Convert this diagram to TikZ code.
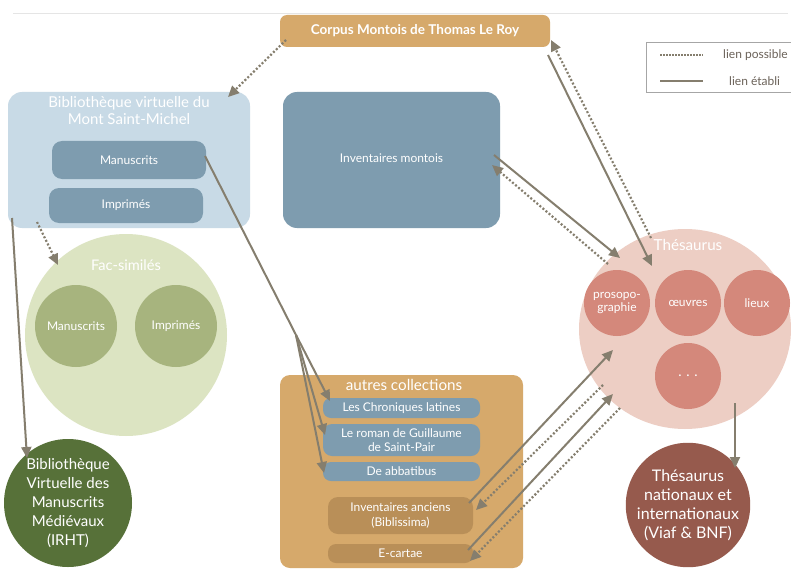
\documentclass[tikz,border=0pt]{standalone}
\usepackage{fontspec}
\setmainfont{Lato}
\usetikzlibrary{arrows.meta,shapes.geometric}
\definecolor{tan}{HTML}{D6A96B}
\definecolor{tandark}{HTML}{B98F58}
\definecolor{ltblue}{HTML}{C8DAE6}
\definecolor{mdblue}{HTML}{7E9CAF}
\definecolor{ltgreen}{HTML}{DCE4C2}
\definecolor{mdgreen}{HTML}{A7B47E}
\definecolor{dkgreen}{HTML}{577139}
\definecolor{ltpink}{HTML}{EDCEC4}
\definecolor{mdpink}{HTML}{D4887B}
\definecolor{dkpink}{HTML}{965A4D}
\definecolor{arr}{HTML}{857E6E}
\definecolor{legtxt}{HTML}{6B6259}
\tikzset{
  box/.style={rounded corners=12pt, draw=none, text=white, align=center, inner sep=0pt},
  circ/.style={circle, draw=none, text=white, align=center, inner sep=0pt},
  lbl/.style={text=white, align=center, inner sep=0pt},
  small/.style={font=\fontsize{12pt}{15pt}\selectfont},
  solidlink/.style={draw=arr, line width=2pt, -{Triangle[length=11pt,width=10pt]}},
  dotlink/.style={draw=arr, line width=2.2pt, dash pattern=on 2pt off 2pt, -{Triangle[length=11pt,width=10pt]}},
}
\begin{document}
\begin{tikzpicture}[x=1pt,y=-1pt]
\useasboundingbox (0,0) rectangle (791,572);
\fill[white] (0,0) rectangle (791,572);
\draw[black!10, line width=1pt] (13,14) -- (788,14);

% Corpus
\node[box, fill=tan, minimum width=270pt, minimum height=32pt, rounded corners=7pt, font=\bfseries\fontsize{13.5pt}{15pt}\selectfont] (corpus) at (415,31) {Corpus Montois de Thomas Le Roy};

% legend
\node[draw=black!35, line width=0.8pt, minimum width=160pt, minimum height=50pt, inner sep=0pt] (legend) at (726,67) {};
\coordinate (l1a) at (660,55); \coordinate (l1b) at (703,55);
\coordinate (l2a) at (660,81); \coordinate (l2b) at (703,81);
\draw[arr, line width=2pt, dash pattern=on 1.5pt off 1.5pt] (l1a) -- (l1b);
\draw[arr, line width=2.2pt] (l2a) -- (l2b);
\node[text=legtxt, font=\fontsize{12pt}{14pt}\selectfont, anchor=west, inner sep=0pt] (lp) at (723,55) {lien possible};
\node[text=legtxt, font=\fontsize{12pt}{14pt}\selectfont, anchor=west, inner sep=0pt] (le) at (729,81) {lien établi};

% Bibliotheque virtuelle
\node[box, fill=ltblue, minimum width=242pt, minimum height=136pt, rounded corners=14pt] (bib) at (129,160) {};
\node[lbl, font=\fontsize{15pt}{17pt}\selectfont] (bibt) at (129,111) {Bibliothèque virtuelle du\\Mont Saint-Michel};
\node[box, fill=mdblue, minimum width=154pt, minimum height=38pt, rounded corners=10pt, small] (bman) at (129,160) {Manuscrits};
\node[box, fill=mdblue, minimum width=154pt, minimum height=35pt, rounded corners=10pt, small] (bimp) at (126,205.5) {Imprimés};

% Inventaires montois
\node[box, fill=mdblue, minimum width=217pt, minimum height=136pt, rounded corners=14pt] (invm) at (391.5,160) {};
\node[lbl, small] (invmt) at (391.5,158) {Inventaires montois};

% Fac-similes
\node[circ, fill=ltgreen, minimum size=202pt] (fac) at (126,335) {};
\node[lbl, font=\fontsize{14.6pt}{17pt}\selectfont] (fact) at (126,265) {Fac-similés};
\node[circ, fill=mdgreen, minimum size=82pt, small] (fman) at (76,326) {Manuscrits};
\node[circ, fill=mdgreen, minimum size=82pt, small] (fimp) at (176,326) {Imprimés};

% BVMM
\node[circ, fill=dkgreen, minimum size=128pt, font=\fontsize{15pt}{19pt}\selectfont] (bvmm) at (68,503) {Bibliothèque\\Virtuelle des\\Manuscrits\\Médiévaux\\(IRHT)};

% autres collections
\node[box, fill=tan, minimum width=243pt, minimum height=193pt, rounded corners=10pt] (autres) at (401.5,471.5) {};
\node[lbl, font=\fontsize{15.2pt}{17pt}\selectfont] (autrest) at (404,385) {autres collections};
\node[box, fill=mdblue, minimum width=157pt, minimum height=20pt, rounded corners=8pt, small] (chron) at (401.5,408) {Les Chroniques latines};
\node[box, fill=mdblue, minimum width=157pt, minimum height=32pt, rounded corners=9pt, font=\fontsize{12pt}{14.5pt}\selectfont] (roman) at (401.5,440) {Le roman de Guillaume\\de Saint-Pair};
\node[box, fill=mdblue, minimum width=157pt, minimum height=19pt, rounded corners=8pt, small] (abba) at (401.5,471.5) {De abbatibus};
\node[box, fill=tandark, minimum width=145pt, minimum height=37pt, rounded corners=10pt, font=\fontsize{12pt}{15pt}\selectfont] (invanc) at (400.5,515.5) {Inventaires anciens\\(Biblissima)};
\node[box, fill=tandark, minimum width=145pt, minimum height=19pt, rounded corners=8pt, small] (ecart) at (400.5,553.5) {E-cartae};

% Thesaurus
\node[ellipse, fill=ltpink, minimum width=212pt, minimum height=200pt, inner sep=0pt] (thes) at (685,329) {};
\node[lbl, font=\fontsize{15.2pt}{17pt}\selectfont] (thest) at (688,245) {Thésaurus};
\node[circ, fill=mdpink, minimum size=66pt, font=\fontsize{12pt}{13pt}\selectfont] (proso) at (617,303) {prosopo-\\graphie};
\node[circ, fill=mdpink, minimum size=66pt, small] (oeuv) at (688,303) {œuvres};
\node[circ, fill=mdpink, minimum size=66pt, small] (lieux) at (757,303) {lieux};
\node[circ, fill=mdpink, minimum size=66pt, font=\fontsize{14pt}{14pt}\selectfont] (etc) at (688,376) {. . .};

% Thesaurus nationaux
\node[circ, fill=dkpink, minimum size=124pt, font=\fontsize{16pt}{19pt}\selectfont] (thn) at (688,505) {Thésaurus\\nationaux et\\internationaux\\(Viaf \& BNF)};

% connectors
\coordinate (c1) at (286,40);
\coordinate (bibin) at (228,97);
\draw[dotlink] (c1) -- (bibin);

\coordinate (bsw) at (12,218);
\coordinate (bvin) at (27,458);
\draw[solidlink] (bsw) -- (bvin);

\coordinate (bibd) at (37,222);
\coordinate (facin) at (58,265);
\draw[dotlink] (bibd) -- (facin);

\coordinate (split) at (296,335);
\coordinate (manout) at (205,156);
\draw[arr, line width=2pt] (manout) -- (split);
\draw[solidlink] (split) -- (330,401);
\draw[solidlink] (split) -- (325,435);
\draw[solidlink] (split) -- (324,473);

\coordinate (im1) at (494,155);
\coordinate (th1) at (620,258);
\draw[solidlink] (im1) -- (th1);
\coordinate (th2) at (608,264);
\coordinate (im2) at (492,165);
\draw[dotlink] (th2) -- (im2);

\coordinate (co1) at (548,55);
\coordinate (th3) at (652,266);
\draw[solidlink] (co1) -- (th3);
\coordinate (th4) at (651,238);
\coordinate (co2) at (551,40);
\draw[dotlink] (th4) -- (co2);

\coordinate (ia1) at (469,503);
\coordinate (th5) at (613,350);
\draw[solidlink] (ia1) -- (th5);
\coordinate (th6) at (603,385);
\coordinate (ia2) at (476,510);
\draw[dotlink] (th6) -- (ia2);

\coordinate (ec1) at (468,550);
\coordinate (th7) at (613,394);
\draw[solidlink] (ec1) -- (th7);
\coordinate (th8) at (620,408);
\coordinate (ec2) at (470,561);
\draw[dotlink] (th8) -- (ec2);

\coordinate (th9) at (735,403);
\coordinate (tn1) at (735,468);
\draw[solidlink] (th9) -- (tn1);
\end{tikzpicture}
\end{document}
